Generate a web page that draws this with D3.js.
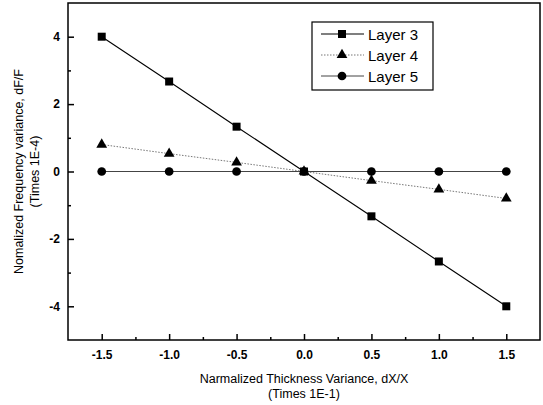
<!DOCTYPE html>
<html>
<head>
<meta charset="utf-8">
<script src="https://d3js.org/d3.v7.min.js"></script>
<style>
  body { margin: 0; background: #fff; }
  text { font-family: "Liberation Sans", Arial, sans-serif; fill: #000; }
</style>
</head>
<body>
<script>
// chart values
const xVals = [-1.5, -1.0, -0.5, 0.0, 0.5, 1.0, 1.5];
const layer3 = [4.0, 2.67, 1.33, 0.0, -1.33, -2.67, -4.0];
const layer4 = [0.8, 0.53, 0.27, 0.0, -0.27, -0.53, -0.8];
const layer5 = [0, 0, 0, 0, 0, 0, 0];
const seriesNames = ['Layer 3', 'Layer 4', 'Layer 5'];
const xTicks = [-1.5, -1.0, -0.5, 0.0, 0.5, 1.0, 1.5];
const yTicks = [-4, -2, 0, 2, 4];

const w = 543, h = 405;
const m = {left: 68, right: 3, top: 3, bottom: 65};

const svg = d3.select('body').append('svg')
  .attr('width', w).attr('height', h);

const x = d3.scaleLinear().domain([-1.75, 1.75]).range([m.left, w - m.right]);
const y = d3.scaleLinear().domain([-5, 5]).range([h - m.bottom, m.top]);

// plain hyphen minus like the original
const fmtX = d => d3.format('.1f')(d).replace('\u2212', '-');
const fmtY = d => String(d);

// frame
svg.append('rect')
  .attr('x', x(-1.75)).attr('y', y(5))
  .attr('width', x(1.75) - x(-1.75)).attr('height', y(-5) - y(5))
  .attr('fill', 'none').attr('stroke', '#000').attr('stroke-width', 1.5);

// axes with inward ticks
const xAxis = svg.append('g').attr('transform', `translate(0,${y(-5)})`)
  .call(d3.axisBottom(x).tickValues(xTicks).tickFormat(fmtX)
    .tickSizeInner(-6).tickSizeOuter(0).tickPadding(10));
xAxis.select('.domain').remove();
xAxis.selectAll('text').attr('font-size', 12).attr('font-weight', 'bold');
xAxis.selectAll('line').attr('stroke-width', 1.5);

svg.append('g').attr('transform', `translate(0,${y(-5)})`)
  .call(d3.axisBottom(x).tickValues(d3.range(-1.25, 1.5, 0.5)).tickFormat('')
    .tickSizeInner(-3).tickSizeOuter(0))
  .call(g => g.select('.domain').remove())
  .selectAll('line').attr('stroke-width', 1.5);

const yAxis = svg.append('g').attr('transform', `translate(${x(-1.75)},0)`)
  .call(d3.axisLeft(y).tickValues(yTicks).tickFormat(fmtY)
    .tickSizeInner(-6).tickSizeOuter(0).tickPadding(8));
yAxis.select('.domain').remove();
yAxis.selectAll('text').attr('font-size', 12).attr('font-weight', 'bold');
yAxis.selectAll('line').attr('stroke-width', 1.5);

svg.append('g').attr('transform', `translate(${x(-1.75)},0)`)
  .call(d3.axisLeft(y).tickValues([-3, -1, 1, 3]).tickFormat('')
    .tickSizeInner(-3).tickSizeOuter(0))
  .call(g => g.select('.domain').remove())
  .selectAll('line').attr('stroke-width', 1.5);

// axis titles
svg.append('text').attr('x', x(0)).attr('y', 383).attr('text-anchor', 'middle')
  .attr('font-size', 12.5).text('Narmalized Thickness Variance, dX/X');
svg.append('text').attr('x', x(0)).attr('y', 398).attr('text-anchor', 'middle')
  .attr('font-size', 12.5).text('(Times 1E-1)');
svg.append('text').attr('transform', `translate(23,${y(0)}) rotate(-90)`)
  .attr('text-anchor', 'middle').attr('font-size', 12.5).text('Nomalized Frequency variance, dF/F');
svg.append('text').attr('transform', `translate(39,${y(0)}) rotate(-90)`)
  .attr('text-anchor', 'middle').attr('font-size', 12.5).text('(Times 1E-4)');

// series
const series = [
  {name: seriesNames[0], vals: layer3, stroke: '#000', width: 1.1, dash: null, marker: 'square'},
  {name: seriesNames[1], vals: layer4, stroke: '#777', width: 1, dash: '1.5,1.5', marker: 'triangle'},
  {name: seriesNames[2], vals: layer5, stroke: '#444', width: 1, dash: null, marker: 'circle'}
];

const line = d3.line().x(d => x(d[0])).y(d => y(d[1]));
const symbolFor = {
  square: d3.symbol().type(d3.symbolSquare).size(64),
  triangle: d3.symbol().type(d3.symbolTriangle).size(50),
  circle: d3.symbol().type(d3.symbolCircle).size(60)
};

series.slice().reverse().forEach(s => {
  const pts = xVals.map((v, i) => [v, s.vals[i]]);
  svg.append('path').datum(pts).attr('d', line)
    .attr('fill', 'none').attr('stroke', s.stroke).attr('stroke-width', s.width)
    .attr('stroke-dasharray', s.dash);
  svg.selectAll(null).data(pts).enter().append('path')
    .attr('d', symbolFor[s.marker])
    .attr('transform', d => `translate(${x(d[0])},${y(d[1])})`)
    .attr('fill', '#000');
});

// legend
const lg = svg.append('g');
lg.append('rect').attr('x', 312).attr('y', 22).attr('width', 121).attr('height', 68)
  .attr('fill', '#fff').attr('stroke', '#000').attr('stroke-width', 1.2);
series.forEach((s, i) => {
  const ly = 34 + i * 21;
  lg.append('line').attr('x1', 321).attr('x2', 364).attr('y1', ly).attr('y2', ly)
    .attr('stroke', s.stroke).attr('stroke-width', s.width).attr('stroke-dasharray', s.dash);
  lg.append('path').attr('d', symbolFor[s.marker])
    .attr('transform', `translate(342,${ly})`).attr('fill', '#000');
  lg.append('text').attr('x', 368).attr('y', ly + 6).attr('font-size', 15).text(s.name);
});
</script>
</body>
</html>
